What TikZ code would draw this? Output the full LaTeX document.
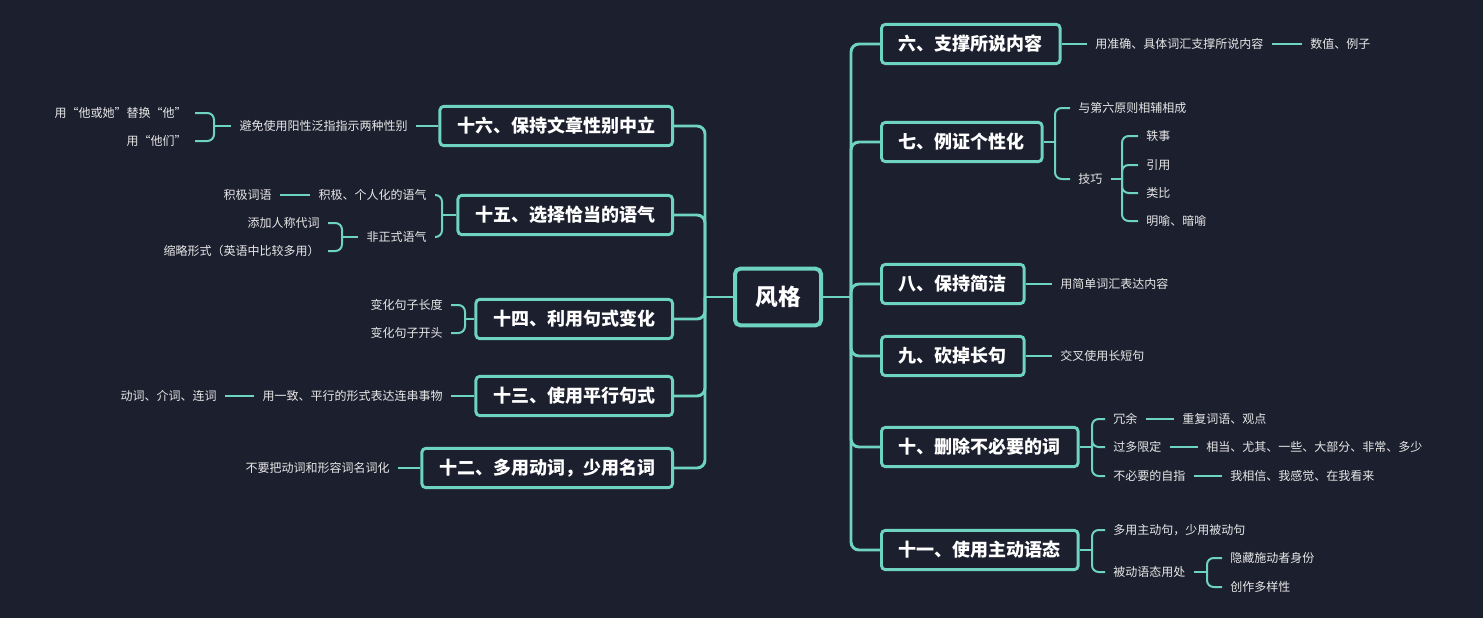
\documentclass[tikz,border=0pt]{standalone}
\usepackage{fontspec}
\setmainfont{Noto Sans CJK SC}
\usepackage{xcolor}
\usepackage{tikz}
\usetikzlibrary{positioning}
\definecolor{bgdark}{HTML}{1C1F2E}
\definecolor{mint}{HTML}{6ED3BF}
\definecolor{leaftext}{HTML}{E8E8E8}
\tikzset{
  rootbox/.style={draw=mint, line width=3pt, rounded corners=4pt, fill=bgdark, text=white,
    font=\bfseries\fontsize{17}{20}\selectfont, minimum width=64.5pt, minimum height=42.5pt},
  topic/.style={draw=mint, line width=2.2pt, rounded corners=3pt, text=white,
    font=\bfseries\fontsize{13.5}{16}\selectfont, minimum height=29.5pt, inner xsep=13pt},
  leaf/.style={text=leaftext, font=\fontsize{9}{11}\selectfont, inner xsep=6pt, inner ysep=1pt},
  trunk/.style={draw=mint, line width=2.2pt, rounded corners=6pt},
  twig/.style={draw=mint, line width=1.5pt, rounded corners=5pt},
}
\begin{document}
\begin{tikzpicture}[x=0.75pt,y=-0.75pt]
\useasboundingbox[fill=bgdark] (0,0) rectangle (1483,618);
\node[rootbox] (fg) at (778,297) {风格};
\coordinate (R) at (851,297);
\coordinate (L) at (705,297);
\draw[trunk] (fg.east) -- (R);
\draw[trunk] (fg.west) -- (L);
\foreach \n/\y/\t in {t6/44/{六、支撑所说内容}, t7/142/{七、例证个性化}, t8/284/{八、保持简洁},
    t9/356/{九、砍掉长句}, t10/447/{十、删除不必要的词}, t11/550/{十一、使用主动语态}}{
  \node[topic, anchor=west] (\n) at (880,\y) {\t};
  \draw[trunk] (R) |- (\n.west);
}
\foreach \n/\y/\t in {t16/126/{十六、保持文章性别中立}, t15/215/{十五、选择恰当的语气}, t14/319/{十四、利用句式变化},
    t13/396/{十三、使用平行句式}, t12/468/{十二、多用动词，少用名词}}{
  \node[topic, anchor=east] (\n) at (674,\y) {\t};
  \draw[trunk] (L) |- (\n.east);
}

\node[leaf, anchor=west] (a6) at (1087,44) {用准确、具体词汇支撑所说内容};
\node[leaf, anchor=west] (b6) at (1302,44) {数值、例子};
\draw[twig] (t6.east) -- (a6.west);
\draw[twig] (a6.east) -- (b6.west);

\coordinate (j7) at (1055,142);
\draw[twig] (t7.east) -- (j7);
\node[leaf, anchor=west] (c7a) at (1070,108) {与第六原则相辅相成};
\node[leaf, anchor=west] (c7b) at (1070,179) {技巧};
\draw[twig] (j7) |- (c7a.west);
\draw[twig] (j7) |- (c7b.west);
\coordinate (j7b) at (1122,179);
\draw[twig] (c7b.east) -- (j7b);
\foreach \n/\y/\t in {d1/136/轶事, d2/165/引用, d3/193/类比, d4/221/明喻、暗喻}{
  \node[leaf, anchor=west] (\n) at (1138,\y) {\t};
  \draw[twig] (j7b) |- (\n.west);
}

\node[leaf, anchor=west] (e8) at (1052,284) {用简单词汇表达内容};
\draw[twig] (t8.east) -- (e8.west);
\node[leaf, anchor=west] (e9) at (1052,356) {交叉使用长短句};
\draw[twig] (t9.east) -- (e9.west);

\coordinate (j10) at (1092,447);
\draw[twig] (t10.east) -- (j10);
\foreach \n/\y/\t/\m/\x/\s in {f1/419/冗余/g1/1174/{重复词语、观点},
    f2/447/过多限定/g2/1198/{相当、尤其、一些、大部分、非常、多少},
    f3/476/不必要的自指/g3/1222/{我相信、我感觉、在我看来}}{
  \node[leaf, anchor=west] (\n) at (1105,\y) {\t};
  \node[leaf, anchor=west] (\m) at (\x,\y) {\s};
  \draw[twig] (j10) |- (\n.west);
  \draw[twig] (\n.east) -- (\m.west);
}

\coordinate (j11) at (1092,550);
\draw[twig] (t11.east) -- (j11);
\node[leaf, anchor=west] (h1) at (1105,530) {多用主动句，少用被动句};
\node[leaf, anchor=west] (h2) at (1105,572) {被动语态用处};
\draw[twig] (j11) |- (h1.west);
\draw[twig] (j11) |- (h2.west);
\coordinate (j11b) at (1207,572);
\draw[twig] (h2.east) -- (j11b);
\node[leaf, anchor=west] (k1) at (1222,558) {隐藏施动者身份};
\node[leaf, anchor=west] (k2) at (1222,587) {创作多样性};
\draw[twig] (j11b) |- (k1.west);
\draw[twig] (j11b) |- (k2.west);

\node[leaf, anchor=east] (m16) at (416,126) {避免使用阳性泛指指示两种性别};
\draw[twig] (t16.west) -- (m16.east);
\coordinate (j16) at (214,126);
\draw[twig] (m16.west) -- (j16);
\node[leaf, anchor=east] (n1) at (195,113) {用“他或她”替换“他”};
\node[leaf, anchor=east] (n2) at (195,141) {用“他们”};
\draw[twig] (j16) |- (n1.east);
\draw[twig] (j16) |- (n2.east);

\coordinate (j15) at (442,215);
\draw[twig] (t15.west) -- (j15);
\node[leaf, anchor=east] (p1) at (435,195) {积极、个人化的语气};
\node[leaf, anchor=east] (p2) at (435,237) {非正式语气};
\draw[twig] (j15) |- (p1.east);
\draw[twig] (j15) |- (p2.east);
\node[leaf, anchor=east] (q1) at (280,195) {积极词语};
\draw[twig] (p1.west) -- (q1.east);
\coordinate (j15b) at (342,237);
\draw[twig] (p2.west) -- (j15b);
\node[leaf, anchor=east] (r1) at (328,223) {添加人称代词};
\node[leaf, anchor=east] (r2) at (328,251) {缩略形式（英语中比较多用）};
\draw[twig] (j15b) |- (r1.east);
\draw[twig] (j15b) |- (r2.east);

\coordinate (j14) at (465,319);
\draw[twig] (t14.west) -- (j14);
\node[leaf, anchor=east] (s1) at (451,305) {变化句子长度};
\node[leaf, anchor=east] (s2) at (451,333) {变化句子开头};
\draw[twig] (j14) |- (s1.east);
\draw[twig] (j14) |- (s2.east);

\node[leaf, anchor=east] (u13) at (451,396) {用一致、平行的形式表达连串事物};
\node[leaf, anchor=east] (v13) at (225,396) {动词、介词、连词};
\draw[twig] (t13.west) -- (u13.east);
\draw[twig] (u13.west) -- (v13.east);

\node[leaf, anchor=east] (w12) at (398,468) {不要把动词和形容词名词化};
\draw[twig] (t12.west) -- (w12.east);
\end{tikzpicture}
\end{document}
